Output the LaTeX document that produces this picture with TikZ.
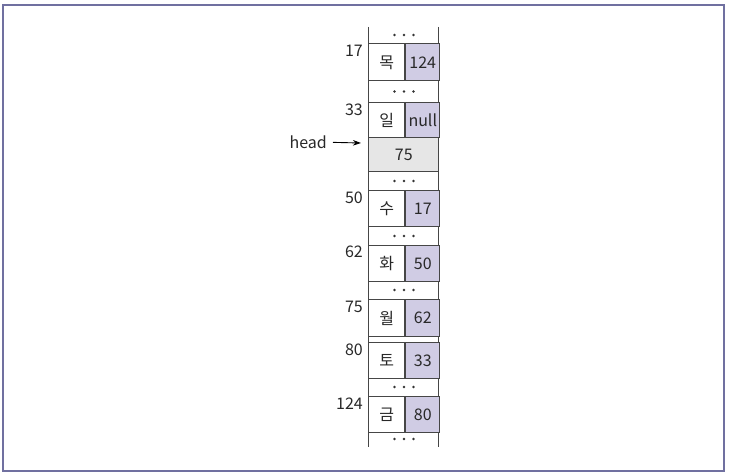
\documentclass[tikz,border=0pt]{standalone}
\usepackage{fontspec}
\setmainfont{Noto Sans CJK KR}
\usetikzlibrary{arrows.meta,positioning}
\definecolor{framecol}{RGB}{112,112,160}
\definecolor{linkcol}{RGB}{208,204,228}
\definecolor{headcol}{RGB}{230,230,230}
\definecolor{cellline}{RGB}{70,70,70}
\definecolor{textcol}{RGB}{40,40,40}

\begin{document}
\begin{tikzpicture}
[x=1pt,y=-1pt,
 keycell/.style={draw=cellline,fill=white,text=textcol,line width=1pt,minimum width=36pt,inner sep=0pt,anchor=north west,font=\fontsize{16}{18}\selectfont},
 linkcell/.style={keycell,fill=linkcol,minimum width=34pt},
 headcell/.style={keycell,fill=headcol,minimum width=70pt},
 addr/.style={anchor=base east,inner sep=0pt,text=textcol,font=\fontsize{16}{18}\selectfont},
 gapdot/.style={circle,fill=black!80,inner sep=0pt,minimum size=2.6pt},
 colline/.style={draw=cellline,line width=1pt},
 ptr/.style={-{Stealth[length=8pt,width=5.5pt]},line width=0.9pt,shorten <=6pt}]
\useasboundingbox (0,0) rectangle (729,476);
\draw[framecol,line width=1.5pt] (3,5) rectangle (724,471);

% column sides
\coordinate (ctl) at (368.3,27);
\coordinate (cbl) at (368.3,446.7);
\coordinate (ctr) at (438.3,27);
\coordinate (cbr) at (438.3,446.7);
\draw[colline] (ctl) -- (cbl);
\draw[colline] (ctr) -- (cbr);

% cells
\foreach \n/\t/\h/\k/\p in {17/43.5/37/목/124, 33/102.5/35/일/null, 50/190.5/36/수/17,
  62/245/36/화/50, 75/299.3/36.4/월/62, 80/342.3/36/토/33, 124/396/35.7/금/80}{
  \node[keycell,minimum height=\h pt] (k\n) at (368.3,\t) {\k};
  \node[linkcell,minimum height=\h pt] (p\n) at (k\n.north east) {\p};
  \node[addr] (l\n) at (363,{\t+13}) {\n};
}
\node[headcell,minimum height=34pt] (h75) at (368.3,137.5) {75};

% gaps
\foreach \g/\y in {1/35,2/91.5,3/181,4/236,5/290,6/387,7/439}{
  \coordinate (g\g) at (404,\y);
  \foreach \i/\dx in {1/-9.5,2/0,3/9.5}
    \node[gapdot] (g\g d\i) at ([xshift=\dx pt]g\g) {};
}

% head pointer
\node[addr] (head) at (327,148.5) {head};
\coordinate (hptr) at (361,143);
\draw[ptr] (head.east) -- (hptr);
\end{tikzpicture}
\end{document}
